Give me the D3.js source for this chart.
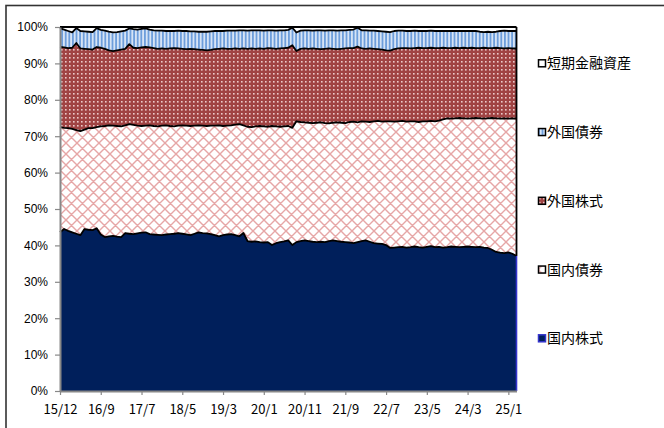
<!DOCTYPE html>
<html><head><meta charset="utf-8">
<script src="https://cdn.jsdelivr.net/npm/d3@7"></script>
<style>body{margin:0;background:#fff}</style>
</head><body><svg id="c" width="664" height="428"></svg>
<script>
const domesticStocks=[43.6,44.5,44.0,43.6,43.2,42.8,44.5,44.3,44.2,44.7,
43.0,42.3,42.5,42.6,42.4,42.3,43.4,43.2,43.1,43.3,
43.5,43.6,43.1,43.0,42.9,42.8,43.0,43.1,43.2,43.4,
43.2,43.0,42.8,43.2,43.6,43.4,43.3,43.1,42.8,42.5,
42.8,43.0,43.1,42.8,42.5,43.4,41.2,41.0,41.1,40.9,
40.8,40.9,40.1,40.6,40.9,41.1,41.4,40.1,40.9,41.2,
41.4,41.2,41.0,40.9,41.0,40.9,41.2,41.4,41.2,41.0,
40.9,40.8,40.6,40.9,41.2,41.4,41.0,40.6,40.5,40.4,
40.1,39.3,39.4,39.5,39.6,39.4,39.5,39.7,39.5,39.4,
39.6,39.8,39.5,39.6,39.4,39.5,39.7,39.6,39.5,39.6,
39.7,39.6,39.5,39.6,39.4,39.3,38.8,38.2,38.0,37.9,
38.1,37.7,37.1];
const domesticBonds=[28.9,27.8,28.2,28.4,28.5,28.6,27.3,27.9,28.0,27.8,
29.7,30.5,30.5,30.3,30.4,30.4,29.6,30.1,30.0,29.6,
29.3,29.3,29.9,29.8,29.8,30.1,30.0,29.7,29.5,29.5,
29.8,29.9,30.0,29.7,29.4,29.5,29.5,29.8,30.1,30.5,
30.0,29.9,29.9,30.4,30.8,29.6,31.4,31.5,31.6,31.9,
31.9,31.7,32.7,32.1,31.7,31.6,31.4,32.2,33.2,32.7,
32.4,32.5,32.6,32.8,32.8,32.7,32.3,32.3,32.6,32.7,
32.7,33.1,33.4,32.9,32.9,32.6,32.9,33.5,33.7,33.6,
34.0,34.8,34.6,34.6,34.6,34.6,34.6,34.4,34.4,34.7,
34.5,34.4,34.6,34.7,35.2,35.4,35.1,35.3,35.5,35.3,
35.1,35.3,35.5,35.3,35.4,35.6,36.2,36.7,36.8,37.0,
36.7,37.2,37.7];
const foreignStocks=[22.0,22.1,22.0,22.3,23.9,22.7,22.2,21.7,21.6,22.0,
21.6,21.2,20.6,20.5,20.8,21.1,21.0,22.0,21.2,21.3,
21.6,21.6,21.4,21.4,21.3,21.2,21.0,21.3,21.5,21.2,
21.0,21.0,21.2,21.0,20.8,20.8,20.8,20.8,21.0,21.0,
21.3,21.1,21.0,20.9,20.7,21.1,21.4,21.6,21.3,21.3,
21.3,21.6,21.3,21.3,21.5,21.5,21.5,22.7,19.3,20.1,
20.3,20.3,20.5,20.3,20.1,20.4,20.6,20.3,20.1,20.3,
20.5,20.3,20.2,20.8,20.0,20.0,20.2,19.9,19.7,19.8,
19.5,19.4,19.9,20.0,20.0,20.2,20.0,20.1,20.4,20.1,
20.1,20.1,20.1,19.9,19.7,19.3,19.4,19.4,19.2,19.4,
19.4,19.4,19.2,19.3,19.5,19.3,19.2,19.4,19.4,19.2,
19.4,19.2,19.3];
const foreignBonds=[5.2,4.9,4.7,4.2,4.1,4.8,4.8,4.8,4.8,5.2,
4.9,5.0,5.1,5.1,5.0,5.0,5.0,4.3,5.1,5.1,
5.1,5.1,4.9,4.9,5.0,4.9,4.9,4.8,4.7,4.9,
4.9,5.0,4.8,4.9,4.9,5.0,5.1,5.1,5.0,4.9,
4.8,5.0,5.0,4.9,5.1,5.0,5.0,5.0,5.1,5.0,
5.0,4.9,5.0,5.0,5.0,4.9,4.9,4.8,5.1,5.0,
5.0,5.1,4.9,5.1,5.2,5.0,5.0,5.1,5.1,5.1,
5.0,5.0,5.1,5.2,5.0,5.1,4.9,5.0,5.0,5.0,
5.1,5.1,5.0,4.9,4.8,4.7,4.8,4.8,4.6,4.7,
4.7,4.7,4.7,4.7,4.6,4.7,4.7,4.6,4.7,4.6,
4.7,4.6,4.7,4.5,4.3,4.5,4.4,4.4,4.7,4.9,
4.7,4.8,4.8];
const shortTerm=[0.3,0.7,1.1,1.5,0.3,1.1,1.2,1.3,1.4,0.3,
0.8,1.0,1.3,1.5,1.4,1.2,1.0,0.4,0.6,0.7,
0.5,0.4,0.7,0.9,1.0,1.0,1.1,1.1,1.1,1.0,
1.1,1.1,1.2,1.2,1.3,1.3,1.3,1.2,1.1,1.1,
1.1,1.0,1.0,1.0,0.9,0.9,1.0,0.9,0.9,0.9,
1.0,0.9,0.9,1.0,0.9,0.9,0.8,0.2,1.5,1.0,
0.9,0.9,1.0,0.9,0.9,1.0,0.9,0.9,1.0,0.9,
0.9,0.8,0.7,0.2,0.9,0.9,1.0,1.0,1.1,1.2,
1.3,1.4,1.1,1.0,1.0,1.1,1.1,1.0,1.1,1.1,
1.1,1.0,1.1,1.1,1.1,1.1,1.1,1.1,1.1,1.1,
1.1,1.1,1.1,1.3,1.4,1.3,1.4,1.3,1.1,1.0,
1.1,1.1,1.1];
const seriesNames=["国内株式","国内債券","外国株式","外国債券","短期金融資産"];
const tickLabels=["15/12","16/9","17/7","18/5","19/3","20/1","20/11","21/9","22/7","23/5","24/3","25/1"];
const tickStep=10;
const yTicks=[0,10,20,30,40,50,60,70,80,90,100];

const seriesArrays=[domesticStocks,domesticBonds,foreignStocks,foreignBonds,shortTerm];
const n=domesticStocks.length;
const data=d3.range(n).map(i=>{const o={i};seriesNames.forEach((k,j)=>o[k]=seriesArrays[j][i]);return o;});
const layers=d3.stack().keys(seriesNames)(data);

const svg=d3.select("#c");
const L=60,R=516.5,T=27,B=391;
const x=d3.scaleLinear().domain([0,n-1]).range([L,R]);
const y=d3.scaleLinear().domain([0,100]).range([B,T]);

// frame
svg.append("rect").attr("x",6).attr("y",5.5).attr("width",720).attr("height",520)
  .attr("fill","none").attr("stroke","#333").attr("stroke-width",1.6);

const defs=svg.append("defs");
const pc=defs.append("pattern").attr("id","cross").attr("patternUnits","userSpaceOnUse").attr("width",11).attr("height",11);
pc.append("rect").attr("width",11).attr("height",11).attr("fill","#fff");
pc.append("path").attr("d","M0,0L11,11M11,0L0,11M-1,10L1,12M10,-1L12,1M-1,1L1,-1M10,12L12,10").attr("stroke","#e6a6a6").attr("stroke-width",1.4);
const pd=defs.append("pattern").attr("id","dots").attr("patternUnits","userSpaceOnUse").attr("width",4).attr("height",4);
pd.append("rect").attr("width",4).attr("height",4).attr("fill","#a04343");
pd.append("rect").attr("x",1).attr("y",1).attr("width",1.6).attr("height",1.6).attr("fill","#eccaca");
const ps=defs.append("pattern").attr("id","stripes").attr("patternUnits","userSpaceOnUse").attr("width",3.6).attr("height",4);
ps.append("rect").attr("width",3.6).attr("height",4).attr("fill","#d6e4f6");
ps.append("rect").attr("width",1.8).attr("height",4).attr("fill","#6e9edb");

const fills=["#001f5b","url(#cross)","url(#dots)","url(#stripes)","#fff"];
const area=d3.area().x(d=>x(d.data.i)).y0(d=>y(d[0])).y1(d=>y(d[1]));
svg.append("g").selectAll("path").data(layers).join("path")
  .attr("d",area).attr("fill",(d,k)=>fills[k]);

// boundary lines
const line=d3.line().x(d=>x(d.data.i)).y(d=>y(d[1]));
svg.append("g").selectAll("path").data(layers).join("path")
  .attr("d",line).attr("fill","none").attr("stroke","#000").attr("stroke-width",1.8).attr("stroke-linejoin","round");
const last=layers[0][n-1];
svg.append("line").attr("x1",x(n-1)).attr("x2",x(n-1)).attr("y1",y(last[1])).attr("y2",y(0))
  .attr("stroke","#3333cc").attr("stroke-width",1.6);
svg.append("line").attr("x1",x(n-1)).attr("x2",x(n-1)).attr("y1",y(100)).attr("y2",y(last[1]))
  .attr("stroke","#000").attr("stroke-width",1.8);

// axes
const ya=svg.append("g").attr("transform",`translate(${L},0)`)
  .call(d3.axisLeft(y).tickValues(yTicks).tickFormat(d=>d+"%").tickSize(5).tickSizeOuter(0).tickPadding(7));
ya.select(".domain").attr("stroke","#888").attr("stroke-width",2);
ya.selectAll(".tick line").attr("stroke","#888").attr("stroke-width",1.2);
ya.selectAll("text").attr("font-family","'Liberation Sans',Arial,sans-serif").attr("font-size",12).attr("fill","#000");

const xa=svg.append("g").attr("transform",`translate(0,${B})`)
  .call(d3.axisBottom(x).tickValues(d3.range(0,tickLabels.length*tickStep,tickStep)).tickFormat((d,k)=>tickLabels[k]).tickSize(4).tickSizeOuter(0).tickPadding(10));
xa.select(".domain").attr("stroke","#888").attr("stroke-width",2);
xa.selectAll(".tick line").attr("stroke","#888").attr("stroke-width",1.2);
xa.selectAll("text").attr("font-family","'Noto Sans CJK JP',sans-serif").attr("font-size",13).attr("fill","#000");

// legend
const legendOrder=[4,3,2,1,0];
const lg=svg.append("g").selectAll("g").data(legendOrder).join("g")
  .attr("transform",(d,k)=>`translate(538,${63.3+k*68.75})`);
lg.append("rect").attr("x",0.5).attr("y",-3.5).attr("width",7).attr("height",7)
  .attr("fill",d=>fills[d]).attr("stroke",d=>d===0?"#3333cc":"#000").attr("stroke-width",1.5);
lg.append("text").attr("x",9).attr("y",0).attr("dy","0.36em")
  .attr("font-family","'Noto Sans CJK JP',sans-serif").attr("font-size",14).attr("fill","#000")
  .text(d=>seriesNames[d]);
</script></body></html>
